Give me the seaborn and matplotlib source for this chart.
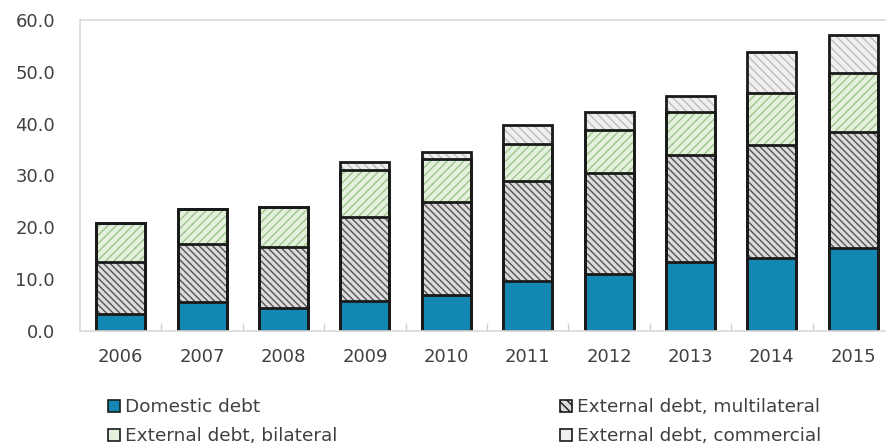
import matplotlib
matplotlib.use("Agg")
import matplotlib.pyplot as plt
import seaborn as sns
import numpy as np
import pandas as pd
from matplotlib.patches import Patch

years = ["2006", "2007", "2008", "2009", "2010", "2011", "2012", "2013", "2014", "2015"]
domestic = [3.2, 5.5, 4.4, 5.8, 7.0, 9.7, 11.0, 13.3, 14.0, 16.0]
multilateral = [10.2, 11.3, 11.9, 16.1, 17.9, 19.2, 19.4, 20.6, 21.8, 22.4]
bilateral = [7.5, 6.7, 7.6, 9.1, 8.3, 7.2, 8.4, 8.4, 10.2, 11.3]
commercial = [0.0, 0.0, 0.0, 1.6, 1.4, 3.6, 3.4, 3.1, 7.9, 7.4]

series_names = ["Domestic debt", "External debt, multilateral",
                "External debt, bilateral", "External debt, commercial"]

sns.set_theme(style="white")
plt.rcParams['font.family'] = ['DejaVu Sans']
plt.rcParams['hatch.linewidth'] = 1.0

df = pd.DataFrame({"year": years, "d": domestic, "m": multilateral,
                   "b": bilateral, "c": commercial})
df["lvl1"] = df["d"]
df["lvl2"] = df["lvl1"] + df["m"]
df["lvl3"] = df["lvl2"] + df["b"]
df["lvl4"] = df["lvl3"] + df["c"]

fig = plt.figure(figsize=(8.87, 4.47), dpi=100)
ax = fig.add_axes([80 / 887, 1 - 331 / 447, 1 - 80 / 887, (331 - 20) / 447])

styles = [
    ("lvl4", "#efefef", "#bdbdbd", "\\\\\\\\"),
    ("lvl3", "#e3f1dc", "#9dc48d", "////"),
    ("lvl2", "#dcdcdc", "#555555", "\\\\\\\\\\"),
    ("lvl1", "#1287b1", "#1287b1", None),
]
bw = 0.6
for col, fc, hc, hatch in styles:
    sns.barplot(data=df, x="year", y=col, ax=ax, color=fc, width=bw,
                saturation=1, edgecolor=hc, linewidth=0, hatch=hatch, errorbar=None)
for col, fc, hc, hatch in styles:
    sns.barplot(data=df, x="year", y=col, ax=ax, width=bw, fill=False,
                edgecolor="#1a1a1a", linewidth=2.0, errorbar=None)

ax.set_xlim(-0.5, -0.5 + 807 / 81.4)
ax.set_ylim(0, 60)
ax.set_yticks(np.arange(0, 61, 10))
ax.set_yticklabels([f"{v:.1f}" for v in np.arange(0, 61, 10)])
ax.set_xlabel("")
ax.set_ylabel("")
ax.set_xticks(np.arange(0.5, 9.5, 1.0), minor=True)
ax.tick_params(axis="x", which="minor", direction="in", length=6, color="#d0d0d0", width=1, bottom=True)
ax.tick_params(axis="both", which="major", length=0, labelsize=13, labelcolor="#404040")
ax.tick_params(axis="y", pad=18)
ax.tick_params(axis="x", pad=12)
for s in ["left", "top", "bottom"]:
    ax.spines[s].set_visible(True)
    ax.spines[s].set_color("#d9d9d9")
    ax.spines[s].set_linewidth(1.2)
ax.spines["right"].set_visible(False)
ax.grid(False)

handles = [
    Patch(facecolor="#1287b1", edgecolor="#1a1a1a", linewidth=1.2),
    Patch(facecolor="#dcdcdc", edgecolor="#1a1a1a", linewidth=1.2, hatch="\\\\\\\\"),
    Patch(facecolor="#e3f1dc", edgecolor="#1a1a1a", linewidth=1.2),
    Patch(facecolor="#efefef", edgecolor="#1a1a1a", linewidth=1.2),
]
common = dict(frameon=False, fontsize=13.3, handlelength=0.65, handleheight=0.65,
              handletextpad=0.25, labelspacing=0.6, labelcolor="#404040", borderaxespad=0)
leg1 = fig.legend([handles[0], handles[2]], [series_names[0], series_names[2]],
                  loc="upper left", bbox_to_anchor=(101 / 887, 1 - 391 / 447), **common)
leg2 = fig.legend([handles[1], handles[3]], [series_names[1], series_names[3]],
                  loc="upper left", bbox_to_anchor=(553 / 887, 1 - 391 / 447), **common)

fig.savefig("out.png", dpi=100)
